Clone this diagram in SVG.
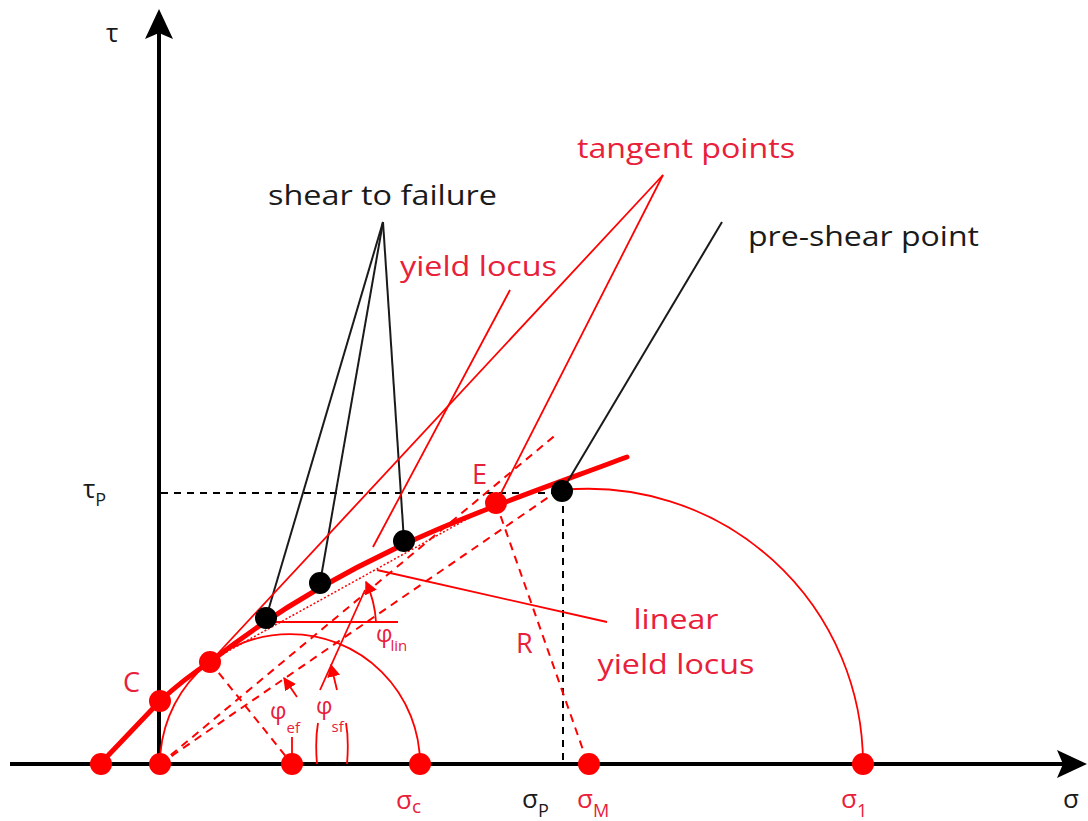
<svg xmlns="http://www.w3.org/2000/svg" width="1088" height="821" viewBox="0 0 1088 821">
<defs>
<style>
.ax{stroke:#000;stroke-width:4;fill:none}
.thin{stroke:#f00;stroke-width:1.8;fill:none}
.thick{stroke:#f00;stroke-width:5;fill:none;stroke-linecap:round;stroke-linejoin:round}
.dash{stroke:#f00;stroke-width:2;fill:none;stroke-dasharray:8 6}
.dot{stroke:#f00;stroke-width:1.5;fill:none;stroke-dasharray:2 2}
.kdash{stroke:#000;stroke-width:2;fill:none;stroke-dasharray:7 6}
.kline{stroke:#1a1a1a;stroke-width:2;fill:none}
.rp{fill:#f00}
.bp{fill:#000}
text{font-family:"Open Sans","Liberation Sans",sans-serif}
.red{fill:#e8203a}
.blk{fill:#1a1a1a}
</style>
<marker id="ah" viewBox="0 0 10 10" refX="9" refY="5" markerWidth="13" markerHeight="13" markerUnits="userSpaceOnUse" orient="auto"><path d="M0,0 L10,5 L0,10 z" fill="#f00"/></marker>
</defs>
<rect width="1088" height="821" fill="#fff"/>

<g id="axes">
<line class="ax" x1="159" y1="766" x2="159" y2="30"/>
<polygon points="159,9 145,39 159,33 173,39" fill="#000"/>
<line class="ax" x1="10" y1="764" x2="1066" y2="764"/>
<polygon points="1087,764 1057,750 1063,764 1057,778" fill="#000"/>
<line class="kdash" x1="161" y1="493" x2="562" y2="493"/>
<line class="kdash" x1="563" y1="493" x2="563" y2="764"/>
</g>

<g id="mohr-circles">
<path class="thin" d="M160,764 A130,130 0 0,1 420,764"/>
<path class="thin" d="M562,490 A275,275 0 0,1 863,764"/>
</g>

<g id="construction-lines">
<line class="dash" x1="160" y1="764" x2="558" y2="433"/>
<line class="dash" x1="160" y1="764" x2="556" y2="492"/>
<line class="dot" x1="212" y1="660" x2="496" y2="503"/>
<line class="dash" x1="210" y1="662" x2="292" y2="764"/>
<line class="dash" x1="496" y1="503" x2="588" y2="764"/>
<line class="thin" x1="266" y1="622" x2="398" y2="622"/>
<path class="thin" d="M376,622 A108,108 0 0,0 366,582" marker-end="url(#ah)"/>
<line class="thin" x1="320" y1="690" x2="365" y2="590"/>
<line class="thin" x1="292" y1="764" x2="292" y2="737"/>
<line class="thin" x1="297" y1="697" x2="284" y2="678" marker-end="url(#ah)"/>
<path class="thin" d="M317,764 Q315,740 318,723"/>
<path class="thin" d="M347,764 Q349,740 346,723"/>
<line class="thin" x1="337" y1="690" x2="331" y2="665" marker-end="url(#ah)"/>
</g>

<g id="yield-locus">
<path class="thick" d="M100,764 L160,701 Q185,678 210,662 C350,552 485,510 627,457"/>
</g>

<g id="connectors">
<line class="kline" x1="383" y1="222" x2="266" y2="618"/>
<line class="kline" x1="383" y1="222" x2="320" y2="583"/>
<line class="kline" x1="383" y1="222" x2="404" y2="541"/>
<line class="kline" x1="722" y1="222" x2="562" y2="491"/>
<line class="thin" x1="663" y1="175" x2="210" y2="662"/>
<line class="thin" x1="663" y1="175" x2="496" y2="503"/>
<line class="thin" x1="510" y1="290" x2="373" y2="547"/>
<line class="thin" x1="607" y1="622" x2="377" y2="570"/>
</g>

<g id="node-p0"><circle class="rp" cx="101" cy="764" r="11"/></g>
<g id="node-origin"><circle class="rp" cx="160" cy="764" r="11"/></g>
<g id="node-center-small"><circle class="rp" cx="292" cy="764" r="11"/></g>
<g id="node-sigma-c"><circle class="rp" cx="420" cy="764" r="11"/></g>
<g id="node-sigma-m"><circle class="rp" cx="589" cy="764" r="11"/></g>
<g id="node-sigma-1"><circle class="rp" cx="863" cy="764" r="11"/></g>
<g id="node-C"><circle class="rp" cx="160" cy="701" r="11"/></g>
<g id="node-tangent-small"><circle class="rp" cx="210" cy="662" r="11"/></g>
<g id="node-E"><circle class="rp" cx="496" cy="503" r="11"/></g>
<g id="node-shear1"><circle class="bp" cx="266" cy="618" r="11"/></g>
<g id="node-shear2"><circle class="bp" cx="320" cy="583" r="11"/></g>
<g id="node-shear3"><circle class="bp" cx="404" cy="541" r="11"/></g>
<g id="node-preshear"><circle class="bp" cx="562" cy="491" r="11"/></g>

<g id="labels">
<text class="blk" x="268" y="205" font-size="28" textLength="229" lengthAdjust="spacingAndGlyphs">shear to failure</text>
<text class="red" x="577" y="158" font-size="28" textLength="218" lengthAdjust="spacingAndGlyphs">tangent points</text>
<text class="red" x="400" y="276" font-size="28" textLength="157" lengthAdjust="spacingAndGlyphs">yield locus</text>
<text class="blk" x="748" y="246" font-size="28" textLength="231" lengthAdjust="spacingAndGlyphs">pre-shear point</text>
<text class="red" x="676" y="629" font-size="28" text-anchor="middle" textLength="85" lengthAdjust="spacingAndGlyphs">linear</text>
<text class="red" x="676" y="674" font-size="28" text-anchor="middle" textLength="157" lengthAdjust="spacingAndGlyphs">yield locus</text>
<text class="red" x="472" y="484" font-size="27">E</text>
<text class="red" x="123" y="692" font-size="27">C</text>
<text class="red" x="516" y="653" font-size="27">R</text>
<text class="blk" x="106" y="42" font-size="26">τ</text>
<text class="blk" x="83" y="498" font-size="26">τ<tspan font-size="18" dy="8">P</tspan></text>
<text class="blk" x="1063" y="808" font-size="26">σ</text>
<text class="red" x="396" y="809" font-size="26">σ<tspan font-size="19" dy="4">c</tspan></text>
<text class="blk" x="522" y="808" font-size="26">σ<tspan font-size="18" dy="9">P</tspan></text>
<text class="red" x="577" y="808" font-size="26">σ<tspan font-size="18" dy="9">M</tspan></text>
<text class="red" x="841" y="808" font-size="26">σ<tspan font-size="18" dy="9">1</tspan></text>
<text class="red" x="376" y="642" font-size="23">φ<tspan font-size="15" dx="-2" dy="9">lin</tspan></text>
<text class="red" x="270" y="719" font-size="23">φ<tspan font-size="15" dy="14">ef</tspan></text>
<text class="red" x="316" y="714" font-size="23">φ<tspan font-size="15" dx="-1" dy="18">sf</tspan></text>
</g>
</svg>
